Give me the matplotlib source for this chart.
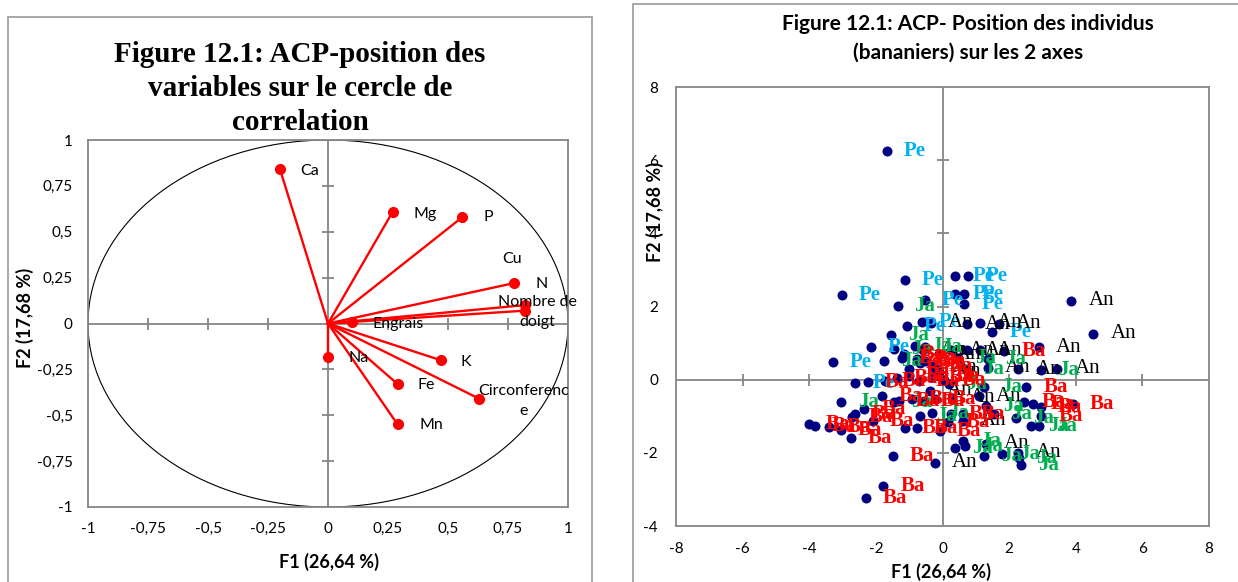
import matplotlib
matplotlib.use('Agg')
import matplotlib.pyplot as plt
from matplotlib.patches import Circle, Rectangle

plt.rcParams['axes.unicode_minus'] = False

# --- data: left chart, variables on the correlation circle ---
var_names = ['Ca', 'Mg', 'P', 'Cu', 'N', 'Nombre de\ndoigt', 'Engrais',
             'Na', 'K', 'Fe', 'Circonferenc\ne', 'Mn']
var_x = [-0.20, 0.27, 0.56, 0.775, 0.82, 0.82, 0.10, 0.00, 0.47, 0.29, 0.63, 0.29]
var_y = [0.84, 0.61, 0.58, 0.22, 0.10, 0.07, 0.01, -0.18, -0.20, -0.33, -0.41, -0.55]
circle_ticks = [-1, -0.75, -0.5, -0.25, 0, 0.25, 0.5, 0.75, 1]

# --- data: right chart, individuals (banana plants) ---
pe_x = [-1.68, -1.14, 0.39, 0.78, -3.03, -0.54, 0.39, 0.66, 0.66, -1.08, -0.63, 1.50, -2.15, -3.30, -2.62]
pe_y = [6.26, 2.73, 2.84, 2.84, 2.32, 2.19, 2.35, 2.35, 2.08, 1.48, 1.58, 1.30, 0.90, 0.48, -0.08]

an_x = [3.87, 4.53, -0.35, 0.75, 1.12, 1.70, -0.60, 0.27, 0.75, 1.12, 2.90, -0.10,
        -0.24, -0.12, 1.36, 2.28, 3.45, -0.39, 0.30, 1.10, 0.63, 1.32, 2.28, -0.24]
an_y = [2.16, 1.26, 1.55, 1.52, 1.55, 1.53, 0.80, 0.80, 0.80, 0.80, 0.88, 0.70,
        0.33, 0.22, 0.33, 0.28, 0.30, -0.30, -0.50, -0.45, -1.12, -1.75, -2.00, -2.27]

ja_x = [-1.35, -1.55, -0.54, -0.84, -1.45, -1.75, 0.48, 1.38, 0.70, 2.97, 0.21, 1.26, 1.32, 1.55,
        2.20, 2.67, 2.91, -3.05, -1.45, -0.69, -0.33, 0.63, 0.69, 0.39, 1.26, 1.80, 2.30, 2.37]
ja_y = [2.02, 1.22, 0.90, 0.93, 0.85, 0.50, 0.60, 0.57, 0.30, 0.27, -0.11, -0.20, -0.71, -0.93,
        -1.04, -1.26, -1.26, -0.62, -0.62, -0.98, -0.90, -1.67, -1.80, -1.86, -2.08, -2.02, -2.15, -2.32]

ba_x = [-1.17, -1.23, -0.78, -0.69, -0.54, -1.02, -0.33, -0.12, 1.86,
        -1.74, -1.38, -1.02, -0.72, -0.33, 0.06, -2.25,
        -1.83, -1.32, -0.93, -0.57, -0.24,
        -2.35, -2.63, -2.73, -2.10,
        -4.01, -3.83, -3.40, -3.05, -2.75,
        -1.14, -0.78, -0.09, 0.18, 0.27, 0.63,
        -1.50, -1.78, -2.30,
        2.52, 2.46, 2.73, 2.95, 2.97, 3.92]
ba_y = [0.71, 0.58, 0.57, 0.46, 0.52, 0.30, 0.38, 0.11, 0.79,
        -0.03, 0.05, 0.10, -0.05, 0.08, -0.02, -0.07,
        -0.44, -0.57, -0.52, -0.57, -0.52,
        -0.80, -0.94, -1.03, -1.12,
        -1.21, -1.26, -1.30, -1.38, -1.60,
        -1.31, -1.31, -1.39, -1.17, -0.93, -0.93,
        -2.08, -2.90, -3.24,
        -0.21, -0.62, -0.66, -0.74, -0.98, -0.66]

x_ticks2 = list(range(-8, 9, 2))
y_ticks2 = list(range(-4, 9, 2))

# --- styles ---
W, H = 1238, 582
sans = ['Lato', 'DejaVu Sans']
serif = ['Liberation Serif', 'DejaVu Serif']
grey = '#868686'
red = '#FF0000'
group_style = {
    'Pe': dict(color='#00B0F0', weight='bold'),
    'Ja': dict(color='#00B050', weight='bold'),
    'Ba': dict(color='#FF0000', weight='bold'),
    'An': dict(color='black', weight='normal'),
}
# label offsets (pixels) and alignment for the left chart
var_offsets = [(20, -2, 'left'), (21, -2, 'left'), (21, 0, 'left'), (-2, 24, 'center'),
               (11, 21, 'left'), (13, -1, 'center'), (21, -2, 'left'), (21, -1, 'left'),
               (20, -2, 'left'), (20, -1, 'left'), (44, -2, 'center'), (22, -1, 'left')]


def fmt_fr(v):
    return f'{v:g}'.replace('.', ',')


fig = plt.figure(figsize=(W / 100, H / 100), dpi=100)

# outer chart frames
fig.add_artist(Rectangle((8 / W, -0.1), (592 - 8) / W, 1 - 17 / H + 0.1,
                         transform=fig.transFigure, fill=False, ec='#9A9A9A', lw=1.2))
fig.add_artist(Rectangle((633 / W, -0.1), 1.0, 1 - 4 / H + 0.1,
                         transform=fig.transFigure, fill=False, ec='#9A9A9A', lw=1.2))

# ---------------- left chart ----------------
ax1 = fig.add_axes([88 / W, 1 - 507 / H, 480 / W, 367 / H])
ax1.set_xlim(-1, 1)
ax1.set_ylim(-1, 1)
for s in ax1.spines.values():
    s.set_color(grey)
    s.set_linewidth(1.3)
ax1.axhline(0, color=grey, lw=1.3, zorder=1)
ax1.axvline(0, color=grey, lw=1.3, zorder=1)
inner = [t for t in circle_ticks if t not in (-1, 0, 1)]
ax1.plot(inner, [0] * len(inner), ls='none', marker='|', ms=8, mew=1.3, color=grey, zorder=1)
ax1.plot([0] * len(inner), inner, ls='none', marker='_', ms=8, mew=1.3, color=grey, zorder=1)
ax1.set_xticks(circle_ticks)
ax1.set_yticks(circle_ticks)
ax1.set_xticklabels([fmt_fr(t) for t in circle_ticks])
ax1.set_yticklabels([fmt_fr(t) for t in circle_ticks])
ax1.tick_params(length=0, labelsize=11, pad=11)
for lab in ax1.get_xticklabels() + ax1.get_yticklabels():
    lab.set_family(sans)

ax1.add_patch(Circle((0, 0), 1, transform=ax1.transData, fill=False, ec='black', lw=0.8, zorder=2))
for x, y in zip(var_x, var_y):
    ax1.plot([0, x], [0, y], color=red, lw=1.7, zorder=3)
ax1.plot(var_x, var_y, 'o', color=red, ms=7, zorder=4)
for name, x, y, (dx, dy, ha) in zip(var_names, var_x, var_y, var_offsets):
    ax1.annotate(name, (x, y), xytext=(dx, dy), textcoords='offset pixels',
                 ha=ha, va='center', fontsize=11.5, family=sans, linespacing=1.55, zorder=5)

left_title = ['Figure 12.1: ACP-position des', 'variables sur le cercle de', 'correlation']
for i, line in enumerate(left_title):
    fig.text(300 / W, 1 - (55 + 33.5 * i) / H, line, ha='center', va='center',
             fontsize=21, weight='bold', family=serif)
fig.text(329 / W, 1 - 562 / H, 'F1 (26,64 %)', ha='center', va='center',
         fontsize=13, weight='bold', family=sans)
fig.text(25 / W, 1 - 318 / H, 'F2 (17,68 %)', ha='center', va='center', rotation=90,
         fontsize=13, weight='bold', family=sans)

# ---------------- right chart ----------------
ax2 = fig.add_axes([676 / W, 1 - 526 / H, 533 / W, 439 / H])
ax2.set_xlim(-8, 8)
ax2.set_ylim(-4, 8)
for s in ax2.spines.values():
    s.set_color(grey)
    s.set_linewidth(1.3)
ax2.axhline(0, color=grey, lw=1.3, zorder=1)
ax2.axvline(0, color=grey, lw=1.3, zorder=1)
xin = [t for t in x_ticks2 if t not in (-8, 0, 8)]
yin = [t for t in y_ticks2 if t not in (-4, 0, 8)]
ax2.plot(xin, [0] * len(xin), ls='none', marker='|', ms=8, mew=1.3, color=grey, zorder=1)
ax2.plot([0] * len(yin), yin, ls='none', marker='_', ms=8, mew=1.3, color=grey, zorder=1)
ax2.set_xticks(x_ticks2)
ax2.set_yticks(y_ticks2)
ax2.set_xticklabels([str(t) for t in x_ticks2])
ax2.set_yticklabels([str(t) for t in y_ticks2])
ax2.tick_params(axis='x', length=0, labelsize=11, pad=11.5)
ax2.tick_params(axis='y', length=0, labelsize=11, pad=13)
for lab in ax2.get_xticklabels() + ax2.get_yticklabels():
    lab.set_family(sans)

groups = [('Pe', pe_x, pe_y), ('An', an_x, an_y), ('Ja', ja_x, ja_y), ('Ba', ba_x, ba_y)]
for name, xs, ys in groups:
    ax2.scatter(xs, ys, s=52, color='#000080', zorder=3, linewidths=0)
for name, xs, ys in groups:
    st = group_style[name]
    for x, y in zip(xs, ys):
        ax2.annotate(name, (x, y), xytext=(17, 0), textcoords='offset pixels',
                     ha='left', va='center', fontsize=15, family=serif,
                     color=st['color'], weight=st['weight'], zorder=4)

right_title = ['Figure 12.1: ACP- Position des individus', '(bananiers) sur les 2 axes']
for i, line in enumerate(right_title):
    fig.text(968 / W, 1 - (24 + 29 * i) / H, line, ha='center', va='center',
             fontsize=15, weight='bold', family=sans)
fig.text(941 / W, 1 - 572 / H, 'F1 (26,64 %)', ha='center', va='center',
         fontsize=13, weight='bold', family=sans)
fig.text(655 / W, 1 - 212 / H, 'F2 (17,68 %)', ha='center', va='center', rotation=90,
         fontsize=13, weight='bold', family=sans)

fig.savefig('out.png', dpi=100)
